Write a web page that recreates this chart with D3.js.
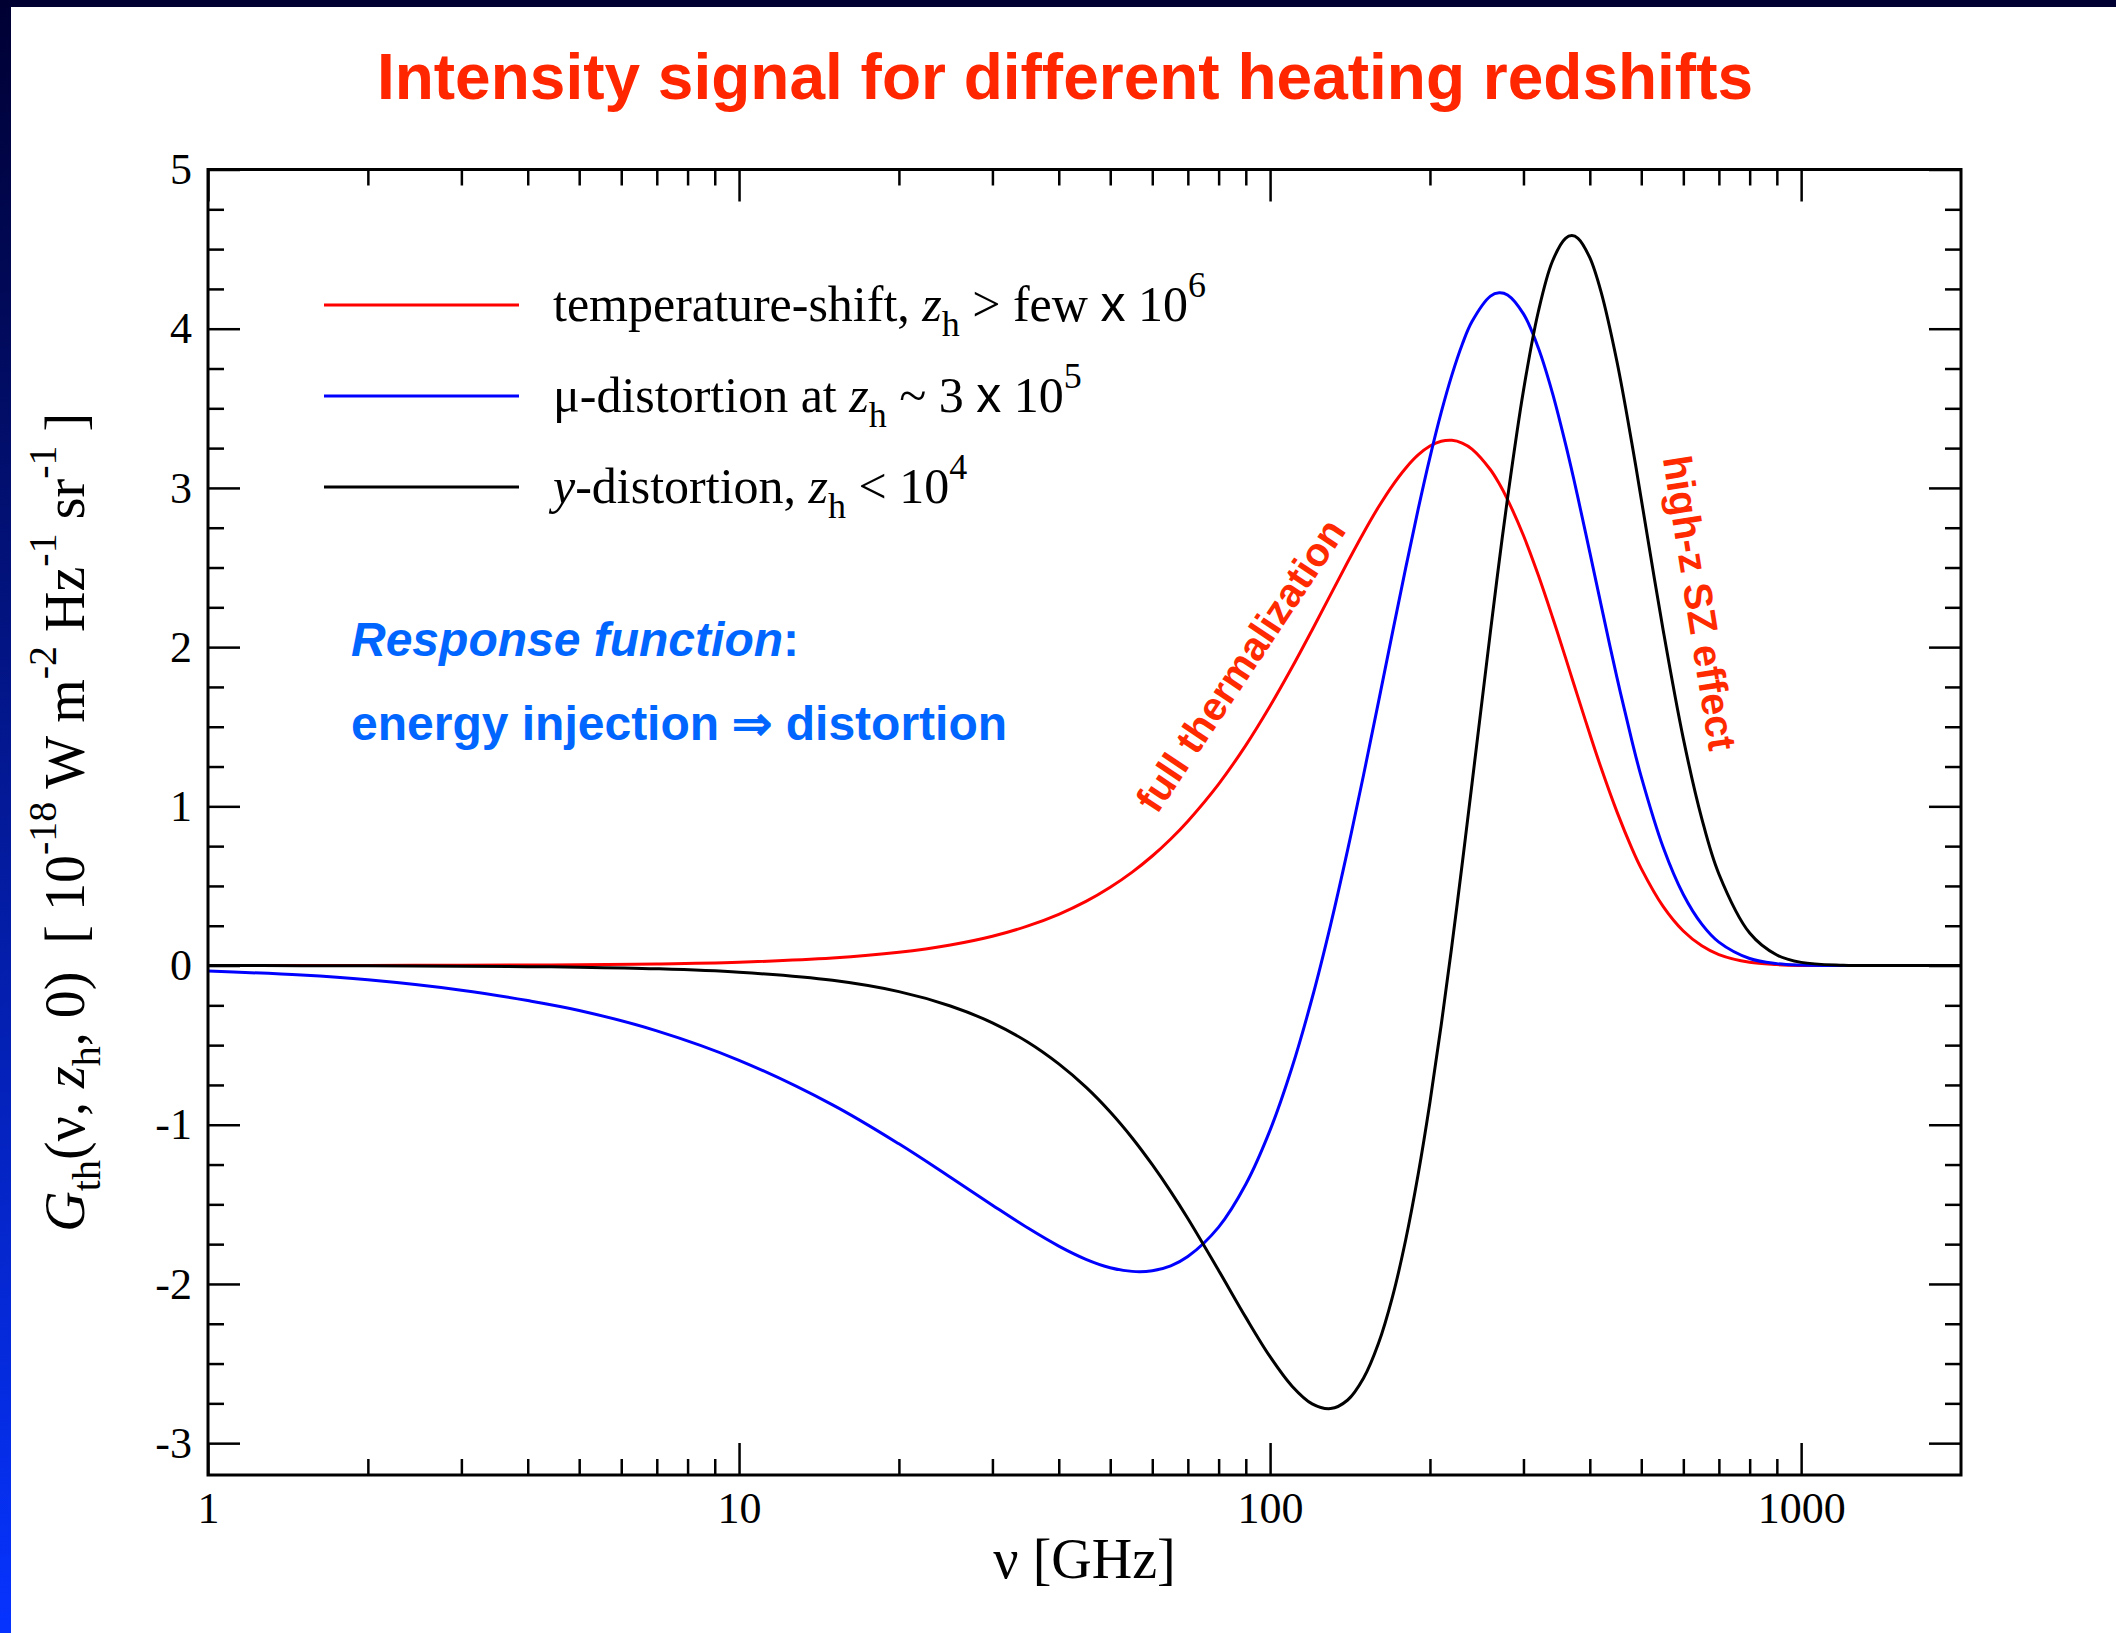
<!DOCTYPE html>
<html><head><meta charset="utf-8">
<script src="https://cdn.jsdelivr.net/npm/d3@7"></script>
<style>
body{margin:0;background:#fff;}
svg{display:block;}
text{white-space:pre;}
</style>
</head><body>
<svg id="chart" width="2116" height="1633"></svg>
<script>
// ---------------- data ----------------
const freqs = [1, 1.5, 2, 3, 4, 5, 7, 10, 15, 20, 25, 30, 35, 40, 45, 50, 55, 60, 65, 70,
  80, 90, 100, 110, 120, 130, 140, 150, 160, 170, 180, 190, 200, 210, 220, 230, 240, 260, 270, 280,
  300, 320, 340, 360, 370, 380, 400, 420, 450, 480, 500, 550, 600, 650, 700, 800, 900, 1000, 1200, 1500, 2000];

const tempShift = [0.000, 0.000, 0.001, 0.002, 0.003, 0.005, 0.010, 0.021, 0.047, 0.083, 0.129, 0.184, 0.249, 0.322, 0.403, 0.492, 0.587, 0.688, 0.795, 0.907,
  1.140, 1.383, 1.630, 1.873, 2.108, 2.330, 2.535, 2.719, 2.880, 3.015, 3.124, 3.207, 3.263, 3.293, 3.299, 3.282, 3.244, 3.114, 3.027, 2.927,
  2.701, 2.451, 2.191, 1.934, 1.808, 1.686, 1.454, 1.242, 0.965, 0.736, 0.609, 0.370, 0.217, 0.124, 0.069, 0.020, 0.006, 0.001, 0.000, 0.000, 0.000];

const muDist = [-0.035, -0.060, -0.090, -0.155, -0.220, -0.282, -0.410, -0.595, -0.875, -1.120, -1.330, -1.505, -1.649, -1.762, -1.845, -1.898, -1.921, -1.917, -1.886, -1.828,
  -1.643, -1.374, -1.034, -0.639, -0.204, 0.256, 0.728, 1.198, 1.656, 2.091, 2.496, 2.865, 3.192, 3.474, 3.710, 3.901, 4.045, 4.205, 4.226, 4.212,
  4.093, 3.879, 3.599, 3.277, 3.109, 2.937, 2.595, 2.265, 1.808, 1.413, 1.185, 0.741, 0.446, 0.260, 0.147, 0.044, 0.012, 0.003, 0.000, 0.000, 0.000];

const yDist = [0.000, -0.001, -0.002, -0.004, -0.007, -0.010, -0.020, -0.042, -0.093, -0.164, -0.254, -0.360, -0.482, -0.618, -0.764, -0.920, -1.083, -1.251, -1.420, -1.589,
  -1.915, -2.210, -2.457, -2.642, -2.753, -2.783, -2.729, -2.591, -2.373, -2.081, -1.724, -1.313, -0.859, -0.374, 0.128, 0.638, 1.142, 2.099, 2.536, 2.936,
  3.612, 4.108, 4.422, 4.568, 4.585, 4.568, 4.446, 4.231, 3.792, 3.281, 2.929, 2.103, 1.425, 0.923, 0.575, 0.204, 0.066, 0.020, 0.002, 0.000, 0.000];

const xDomain = [1, 2000];
const yDomain = [-3.2, 5];
const xMajorTicks = [1, 10, 100, 1000];
const xTickLabels = ["1", "10", "100", "1000"];
const xMinorTicks = [2,3,4,5,6,7,8,9, 20,30,40,50,60,70,80,90, 200,300,400,500,600,700,800,900];
const yMajorTicks = [-3, -2, -1, 0, 1, 2, 3, 4, 5];
const yTickLabels = ["-3", "-2", "-1", "0", "1", "2", "3", "4", "5"];
const yMinorTicks = [-2.75,-2.5,-2.25,-1.75,-1.5,-1.25,-0.75,-0.5,-0.25,0.25,0.5,0.75,1.25,1.5,1.75,2.25,2.5,2.75,3.25,3.5,3.75,4.25,4.5,4.75];

const titleText = "Intensity signal for different heating redshifts";

// ---------------- layout / style ----------------
const W = 2116, H = 1633;
const P = {left: 208, right: 1961, top: 169.5, bottom: 1475};
const SERIF = "'Liberation Serif','Times New Roman',Times,serif";
const SANS = "'Liberation Sans',Arial,Helvetica,sans-serif";
const series = [
  {values: tempShift, color: "#ff0000"},
  {values: muDist, color: "#0000ff"},
  {values: yDist, color: "#000000"}
];

const svg = d3.select("#chart");
const defs = svg.append("defs");
const grad = defs.append("linearGradient").attr("id", "side")
  .attr("x1", 0).attr("y1", 0).attr("x2", 0).attr("y2", 1);
grad.append("stop").attr("offset", "0").attr("stop-color", "#000033");
grad.append("stop").attr("offset", "1").attr("stop-color", "#0633ff");
defs.append("clipPath").attr("id", "plotclip").append("rect")
  .attr("x", P.left).attr("y", P.top).attr("width", P.right - P.left).attr("height", P.bottom - P.top);

svg.append("rect").attr("width", W).attr("height", H).attr("fill", "#fff");
svg.append("rect").attr("x", 0).attr("y", 0).attr("width", 11).attr("height", H).attr("fill", "url(#side)");
svg.append("rect").attr("x", 0).attr("y", 0).attr("width", W).attr("height", 7).attr("fill", "#000033");

const x = d3.scaleLog().domain(xDomain).range([P.left, P.right]);
const y = d3.scaleLinear().domain(yDomain).range([P.bottom, P.top]);

// title
svg.append("text").attr("x", 1065).attr("y", 99).attr("text-anchor", "middle")
  .attr("font-family", SANS).attr("font-weight", "bold").attr("font-size", 64)
  .attr("fill", "#ff2600").text(titleText);

// curves
const line = d3.line().x((d, i) => x(freqs[i])).y(d => y(d)).curve(d3.curveCatmullRom.alpha(0.5));
const plot = svg.append("g").attr("clip-path", "url(#plotclip)");
series.forEach(s => {
  plot.append("path").attr("d", line(s.values)).attr("fill", "none")
    .attr("stroke", s.color).attr("stroke-width", 3).attr("stroke-linejoin", "round");
});

// axes
function style(g, labels) {
  g.select(".domain").remove();
  g.selectAll(".tick line").attr("stroke", "#000").attr("stroke-width", 2.5);
  g.attr("font-family", SERIF).attr("font-size", 44);
  g.selectAll(".tick text").attr("fill", "#000");
  if (!labels) g.selectAll(".tick text").remove();
}
svg.append("g").attr("transform", `translate(0,${P.bottom})`)
  .call(d3.axisBottom(x).tickValues(xMajorTicks).tickSize(-32).tickPadding(17)
    .tickFormat(d => xTickLabels[xMajorTicks.indexOf(d)])).call(g => style(g, true));
svg.append("g").attr("transform", `translate(0,${P.bottom})`)
  .call(d3.axisBottom(x).tickValues(xMinorTicks).tickSize(-16)).call(g => style(g, false));
svg.append("g").attr("transform", `translate(0,${P.top})`)
  .call(d3.axisTop(x).tickValues(xMajorTicks).tickSize(-32)).call(g => style(g, false));
svg.append("g").attr("transform", `translate(0,${P.top})`)
  .call(d3.axisTop(x).tickValues(xMinorTicks).tickSize(-16)).call(g => style(g, false));
svg.append("g").attr("transform", `translate(${P.left},0)`)
  .call(d3.axisLeft(y).tickValues(yMajorTicks).tickSize(-32).tickPadding(16)
    .tickFormat(d => yTickLabels[yMajorTicks.indexOf(d)])).call(g => style(g, true));
svg.append("g").attr("transform", `translate(${P.left},0)`)
  .call(d3.axisLeft(y).tickValues(yMinorTicks).tickSize(-16)).call(g => style(g, false));
svg.append("g").attr("transform", `translate(${P.right},0)`)
  .call(d3.axisRight(y).tickValues(yMajorTicks).tickSize(-32)).call(g => style(g, false));
svg.append("g").attr("transform", `translate(${P.right},0)`)
  .call(d3.axisRight(y).tickValues(yMinorTicks).tickSize(-16)).call(g => style(g, false));

svg.append("rect").attr("x", P.left).attr("y", P.top).attr("width", P.right - P.left)
  .attr("height", P.bottom - P.top).attr("fill", "none").attr("stroke", "#000").attr("stroke-width", 3);

// axis titles
svg.append("text").attr("x", (P.left + P.right) / 2).attr("y", 1578)
  .attr("text-anchor", "middle").attr("font-family", SERIF).attr("font-size", 56).attr("fill", "#000")
  .text("ν [GHz]");

function addRuns(t, runs) {
  runs.forEach(r => {
    const sp = t.append("tspan").text(r.t);
    if (r.i) sp.attr("font-style", "italic");
    if (r.f) sp.attr("font-family", r.f);
    if (r.s) sp.attr("font-size", r.s);
    if (r.dy) sp.attr("dy", r.dy);
  });
}
const yt = svg.append("text").attr("transform", `translate(84,${(P.top + P.bottom) / 2}) rotate(-90)`)
  .attr("text-anchor", "middle").attr("font-family", SERIF).attr("font-size", 56).attr("fill", "#000");
addRuns(yt, [
  {t: "G", i: true}, {t: "th", s: 40, dy: 16}, {t: "(ν, ", dy: -16}, {t: "z", i: true},
  {t: "h", s: 40, dy: 16}, {t: ", 0)  [ 10", dy: -16}, {t: "-18", s: 40, dy: -28},
  {t: " W m", dy: 28}, {t: "-2", s: 40, dy: -28}, {t: " Hz", dy: 28}, {t: "-1", s: 40, dy: -28},
  {t: " sr", dy: 28}, {t: "-1", s: 40, dy: -28}, {t: " ]", dy: 28}
]);

// legend
const legendY = [305, 396, 487];
const legendRuns = [
  [{t: "temperature-shift, "}, {t: "z", i: true}, {t: "h", s: 36, dy: 15}, {t: " > few ", dy: -15},
   {t: "x", f: SANS}, {t: " 10"}, {t: "6", s: 36, dy: -24}],
  [{t: "μ-distortion at "}, {t: "z", i: true}, {t: "h", s: 36, dy: 15}, {t: " ~ 3 ", dy: -15},
   {t: "x", f: SANS}, {t: " 10"}, {t: "5", s: 36, dy: -24}],
  [{t: "y", i: true}, {t: "-distortion, "}, {t: "z", i: true}, {t: "h", s: 36, dy: 15}, {t: " < 10", dy: -15},
   {t: "4", s: 36, dy: -24}]
];
series.forEach((s, k) => {
  svg.append("line").attr("x1", 324).attr("x2", 519).attr("y1", legendY[k]).attr("y2", legendY[k])
    .attr("stroke", s.color).attr("stroke-width", 3);
  const t = svg.append("text").attr("x", 553).attr("y", legendY[k] + 16)
    .attr("font-family", SERIF).attr("font-size", 50).attr("fill", "#000");
  addRuns(t, legendRuns[k]);
});

// annotations
const rf = svg.append("text").attr("x", 351).attr("y", 656).attr("font-family", SANS)
  .attr("font-weight", "bold").attr("font-size", 48).attr("fill", "#0066ff");
addRuns(rf, [{t: "Response function", i: true}, {t: ":"}]);
svg.append("text").attr("x", 351).attr("y", 740).attr("font-family", SANS)
  .attr("font-weight", "bold").attr("font-size", 48).attr("fill", "#0066ff")
  .text("energy injection ⇒ distortion");

svg.append("text").attr("transform", "translate(1252,673) rotate(-56.3)").attr("text-anchor", "middle")
  .attr("font-family", SANS).attr("font-weight", "bold").attr("font-size", 40).attr("fill", "#ff2a00")
  .text("full thermalization");
svg.append("text").attr("transform", "translate(1686,605) rotate(81)").attr("text-anchor", "middle")
  .attr("font-family", SANS).attr("font-weight", "bold").attr("font-size", 40).attr("fill", "#ff2a00")
  .text("high-z SZ effect");
</script>
</body></html>
